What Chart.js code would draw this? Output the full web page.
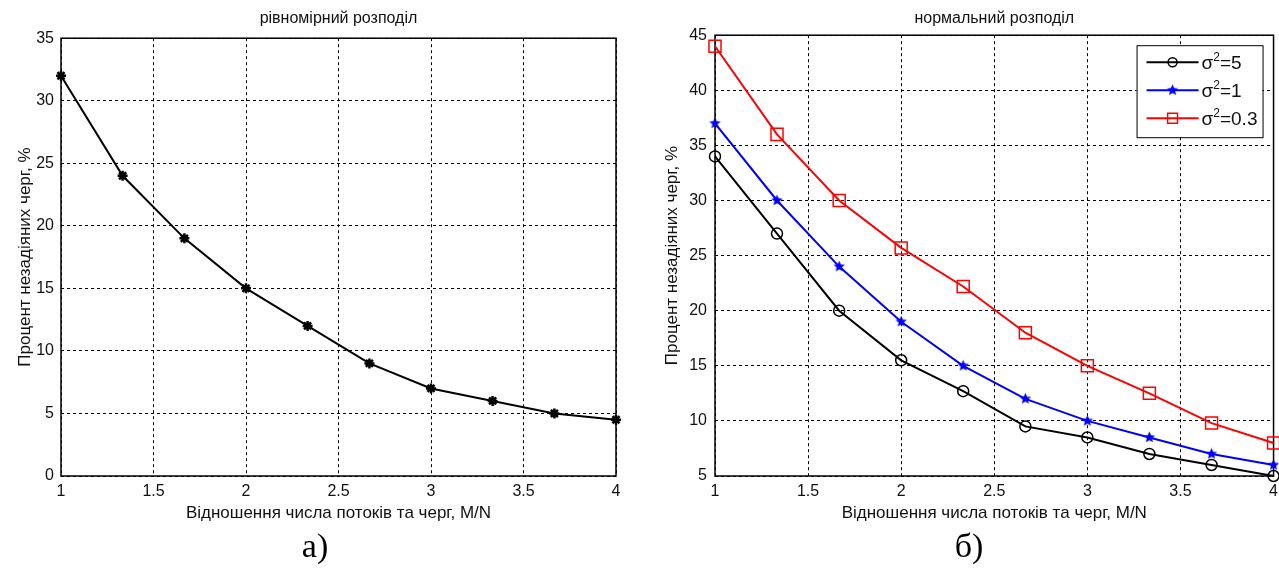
<!DOCTYPE html>
<html>
<head>
<meta charset="utf-8">
<script src="https://cdn.jsdelivr.net/npm/chart.js@4.4.0/dist/chart.umd.min.js"></script>
<style>
    body { margin: 0; background: #fff; width: 1279px; height: 577px; overflow: hidden; position: relative; }
    canvas { position: absolute; top: 0; }
    .cap { position: absolute; top: 527px; font-family: "Liberation Serif", "Times New Roman", serif; font-size: 34px; color: #000; transform: translateX(-50%); }
</style>
</head>
<body>
<canvas id="uniformCanvas" width="640" height="530" style="left:0"></canvas>
<canvas id="normalCanvas" width="644" height="530" style="left:640px"></canvas>
<div class="cap" style="left:315px">а)</div>
<div class="cap" style="left:969px">б)</div>
<script>
// M/N ratio (x axis)
var ratio = [1, 1.333, 1.667, 2, 2.333, 2.667, 3, 3.333, 3.667, 4];
var xTicks = [1, 1.5, 2, 2.5, 3, 3.5, 4];

// a) uniform distribution
var uniformPct = [32, 24, 19, 15, 12, 9, 7, 6, 5, 4.5];

// b) normal distribution, one series per variance
var sigma5Pct = [34, 27, 20, 15.5, 12.7, 9.5, 8.5, 7, 6, 5];
var sigma1Pct = [37, 30, 24, 19, 15, 12, 10, 8.5, 7, 6];
var sigma03Pct = [44, 36, 30, 25.7, 22.2, 18, 15, 12.5, 9.8, 8];
var sigmaValues = ["5", "1", "0.3"];

var xTitle = "Відношення числа потоків та черг, М/N";
var yTitle = "Процент незадіяних черг, %";

Chart.defaults.font.family = "Arial, 'Liberation Sans', sans-serif";
Chart.defaults.color = "#111";

function points(ys) {
    return ratio.map(function (x, i) { return { x: x, y: ys[i] }; });
}

// filled five point star, used as the blue marker
function pentagram(size, color) {
    var c = document.createElement("canvas");
    c.width = c.height = size;
    var g = c.getContext("2d");
    var r = size / 2;
    g.beginPath();
    for (var i = 0; i < 10; i++) {
        var a = -Math.PI / 2 + i * Math.PI / 5;
        var rr = i % 2 ? r * 0.42 : r - 0.5;
        g.lineTo(r + rr * Math.cos(a), r + rr * Math.sin(a));
    }
    g.closePath();
    g.fillStyle = color;
    g.fill();
    return c;
}

// solid box round the plot area, like matlab's axes
var frame = {
    id: "frame",
    beforeDatasetsDraw: function (chart) {
        var a = chart.chartArea, ctx = chart.ctx;
        ctx.save();
        ctx.strokeStyle = "#000";
        ctx.lineWidth = 1.5;
        ctx.strokeRect(a.left, a.top, a.right - a.left, a.bottom - a.top);
        ctx.restore();
    }
};

function axes(yMin, yMax, yWidth, yTitlePad, yTickPad) {
    return {
        x: {
            type: "linear", min: 1, max: 4,
            afterBuildTicks: function (s) { s.ticks = xTicks.map(function (v) { return { value: v }; }); },
            afterFit: function (s) { s.height = 54; },
            grid: { color: "#000", lineWidth: 1, drawTicks: false },
            border: { display: false, dash: [3, 3] },
            ticks: { padding: 6, font: { size: 16 }, maxRotation: 0, callback: function (v) { return String(v); } },
            title: { display: true, text: xTitle, font: { size: 17 }, padding: { top: 0, bottom: 6 } }
        },
        y: {
            min: yMin, max: yMax,
            ticks: { stepSize: 5, padding: yTickPad, font: { size: 16 } },
            afterFit: function (s) { s.width = yWidth; },
            grid: { color: "#000", lineWidth: 1, drawTicks: false },
            border: { display: false, dash: [3, 3] },
            title: { display: true, text: yTitle, font: { size: 17 }, padding: { top: yTitlePad, bottom: 0 } }
        }
    };
}

new Chart(document.getElementById("uniformCanvas").getContext("2d"), {
    type: "line",
    data: {
        datasets: [{
            data: points(uniformPct),
            borderColor: "#000",
            backgroundColor: "#000",
            borderWidth: 2,
            pointStyle: "star",
            pointRadius: 5,
            pointBorderWidth: 2.5,
            tension: 0,
            clip: false
        }]
    },
    options: {
        responsive: false,
        animation: false,
        layout: { padding: { left: 0, right: 24, top: 0, bottom: 0 } },
        plugins: {
            legend: { display: false },
            tooltip: { enabled: false },
            title: { display: true, fullSize: false, text: "рівномірний розподіл", font: { size: 16, weight: "normal" }, padding: { top: 9, bottom: 10 } }
        },
        scales: axes(0, 35, 61, 15, 7)
    },
    plugins: [frame]
});

var blueStar = pentagram(13, "#0000ff");
var styles = [
    { color: "#000000", pointStyle: "circle", radius: 5.5, borderWidth: 1.5, fill: "rgba(0,0,0,0)" },
    { color: "#0000ff", pointStyle: blueStar, radius: 6, borderWidth: 0, fill: "#0000ff" },
    { color: "#ff0000", pointStyle: "rect", radius: 8.5, borderWidth: 1.5, fill: "rgba(0,0,0,0)" }
];

// matlab style legend, top right inside the plot
var sigmaLegend = {
    id: "sigmaLegend",
    afterDraw: function (chart) {
        var ctx = chart.ctx, a = chart.chartArea;
        var x0 = a.right - 137, y0 = a.top + 10, w = 126, h = 92;
        ctx.save();
        ctx.fillStyle = "#fff";
        ctx.fillRect(x0, y0, w, h);
        ctx.strokeStyle = "#000";
        ctx.lineWidth = 1;
        ctx.strokeRect(x0 + 0.5, y0 + 0.5, w, h);
        sigmaValues.forEach(function (v, i) {
            var st = styles[i], y = y0 + 17 + i * 28;
            ctx.strokeStyle = st.color;
            ctx.lineWidth = 2;
            ctx.beginPath();
            ctx.moveTo(x0 + 10, y);
            ctx.lineTo(x0 + 62, y);
            ctx.stroke();
            ctx.fillStyle = st.fill;
            ctx.lineWidth = st.borderWidth;
            Chart.helpers.drawPoint(ctx, { pointStyle: st.pointStyle, radius: i === 2 ? 7 : st.radius - 1, borderWidth: st.borderWidth, rotation: 0 }, x0 + 36, y);
            ctx.fillStyle = "#111";
            ctx.textBaseline = "middle";
            ctx.textAlign = "left";
            var tx = x0 + 65;
            ctx.font = "19px Arial, 'Liberation Sans', sans-serif";
            ctx.fillText("σ", tx, y + 2);
            tx += ctx.measureText("σ").width;
            ctx.font = "12px Arial, 'Liberation Sans', sans-serif";
            ctx.fillText("2", tx, y - 5);
            tx += ctx.measureText("2").width;
            ctx.font = "19px Arial, 'Liberation Sans', sans-serif";
            ctx.fillText("=" + v, tx, y + 2);
        });
        ctx.restore();
    }
};

var series = [sigma5Pct, sigma1Pct, sigma03Pct];
new Chart(document.getElementById("normalCanvas").getContext("2d"), {
    type: "line",
    data: {
        datasets: series.map(function (ys, i) {
            var st = styles[i];
            return {
                label: "σ²=" + sigmaValues[i],
                data: points(ys),
                borderColor: st.color,
                backgroundColor: st.fill,
                borderWidth: 2,
                pointStyle: st.pointStyle,
                pointRadius: st.radius,
                pointBorderWidth: st.borderWidth,
                tension: 0,
                clip: false
            };
        })
    },
    options: {
        responsive: false,
        animation: false,
        layout: { padding: { left: 0, right: 1, top: 0, bottom: 0 } },
        plugins: {
            legend: { display: false },
            tooltip: { enabled: false },
            title: { display: true, fullSize: false, text: "нормальний розподіл", font: { size: 16, weight: "normal" }, padding: { top: 9, bottom: 7 } }
        },
        scales: axes(5, 45, 75, 22, 8)
    },
    plugins: [frame, sigmaLegend]
});
</script>
</body>
</html>
